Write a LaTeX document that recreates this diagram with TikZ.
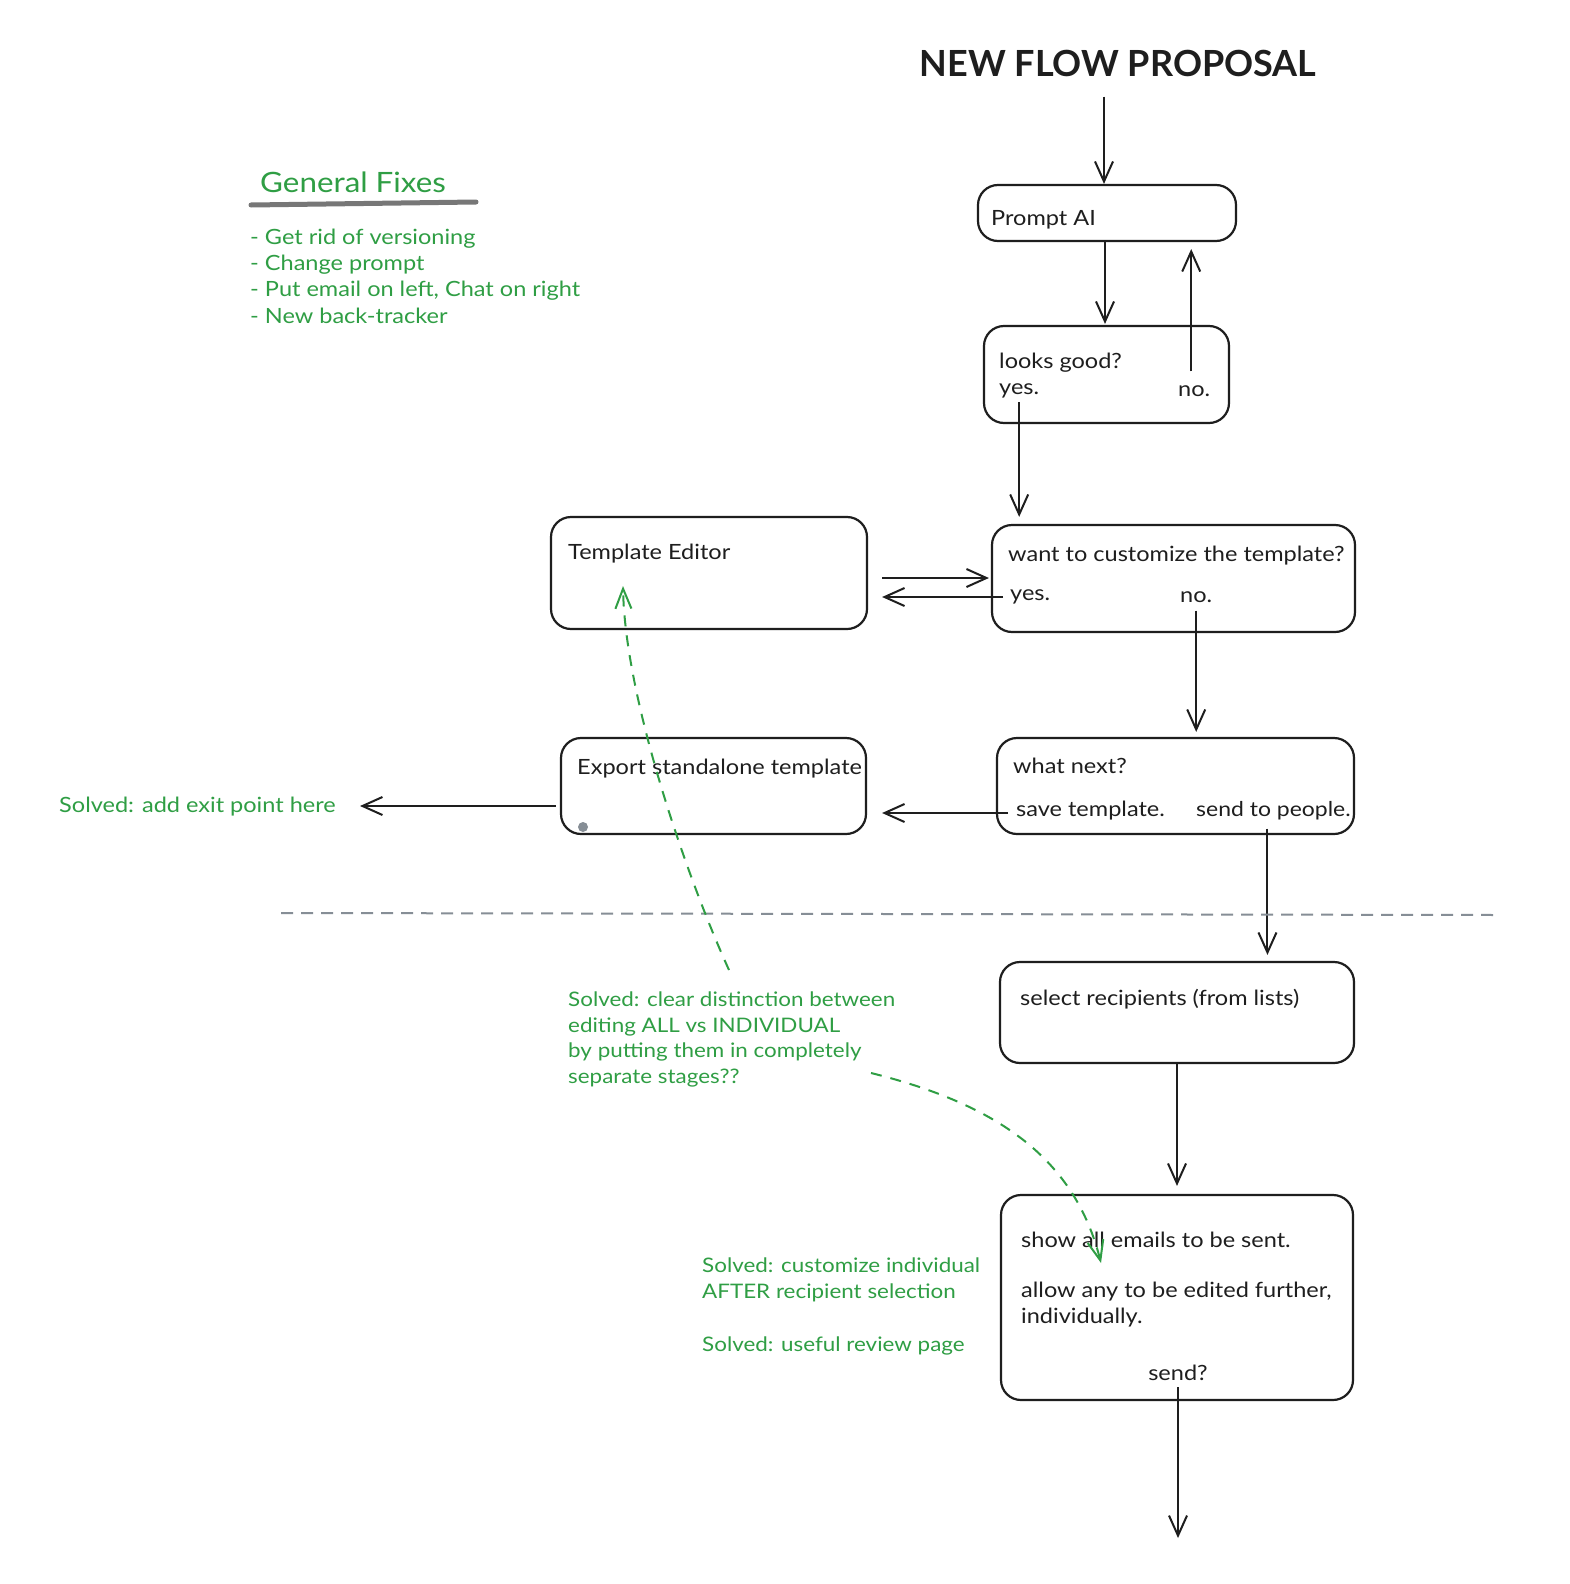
\documentclass[tikz,border=0pt]{standalone}
\usepackage{fontspec}
\setmainfont{Lato}[FakeStretch=1.12]
\newfontfamily\titlefont{Lato}
\usetikzlibrary{arrows.meta,calc}
\definecolor{ink}{HTML}{1E1E1E}
\definecolor{note}{HTML}{2F9E44}
\definecolor{rule}{HTML}{868E96}
\definecolor{ulgray}{HTML}{777777}
\tikzset{
  box/.style={draw=ink, line width=2.2pt, rounded corners=20pt, inner sep=0pt},
  txt/.style={anchor=west, inner sep=0pt, text=ink, font=\fontsize{21}{25}\selectfont},
  notetxt/.style={anchor=west, inner sep=0pt, text=note, font=\fontsize{21}{25}\selectfont},
  notepar/.style={anchor=north west, inner sep=0pt, text=note, align=left, font=\fontsize{20}{25.5}\selectfont},
  arr/.style={draw=ink, line width=2pt, -{Straight Barb[length=20pt,width=18pt,line width=2pt]}},
  garr/.style={draw=note, line width=2pt, dash pattern=on 11pt off 9pt, -{Straight Barb[length=20pt,width=16pt,line width=2pt]}},
}
\begin{document}
\begin{tikzpicture}[x=1pt,y=-1pt]
\useasboundingbox[fill=white] (0,0) rectangle (1570,1584);

% title
\node[inner sep=0pt, text=ink, font=\fontsize{36}{42}\titlefont\bfseries] (title) at (1118,63) {NEW FLOW PROPOSAL};

% general fixes
\node[anchor=west, inner sep=0pt, text=note, font=\fontsize{28}{32}\selectfont] (gf) at (260,182) {General Fixes};
\coordinate (ulA) at (251,205);
\coordinate (ulB) at (476,202);
\draw[ulgray, line width=5pt, line cap=round] (ulA) -- (ulB);
\node[notetxt] (f1) at (250,239) {- Get rid of versioning};
\node[notetxt] (f2) at (250,265) {- Change prompt};
\node[notetxt] (f3) at (250,291) {- Put email on left, Chat on right};
\node[notetxt] (f4) at (250,316) {- New back-tracker};

% boxes
\node[box, minimum width=258pt, minimum height=56pt] (prompt) at (1107,213) {};
\node[box, minimum width=245pt, minimum height=97pt] (looks) at (1106.5,374.5) {};
\node[box, minimum width=363pt, minimum height=107pt] (want) at (1173.5,578.5) {};
\node[box, minimum width=316pt, minimum height=112pt] (editor) at (709,573) {};
\node[box, minimum width=357pt, minimum height=96pt] (whatnext) at (1175.5,786) {};
\node[box, minimum width=305pt, minimum height=96pt] (export) at (713.5,786) {};
\node[box, minimum width=354pt, minimum height=101pt] (select) at (1177,1012.5) {};
\node[box, minimum width=352pt, minimum height=205pt] (show) at (1177,1297.5) {};

% box texts
\node[txt] (tprompt) at (991,220) {Prompt AI};
\node[txt] (tlooks) at (999,363) {looks good?};
\node[txt] (lyes) at (999,391) {yes.};
\node[txt] (lno) at (1178,391) {no.};
\node[txt] (twant) at (1008,556) {want to customize the template?};
\node[txt] (wyes) at (1010,597) {yes.};
\node[txt] (wno) at (1180,597) {no.};
\node[txt] (teditor) at (568,554) {Template Editor};
\node[txt] (twhat) at (1013,766) {what next?};
\node[txt] (nsave) at (1016,811) {save template.};
\node[txt, font=\fontsize{20.5}{25}\selectfont] (nsend) at (1196,811) {send to people.};
\node[txt] (texport) at (577,769) {Export standalone template};
\node[txt] (tselect) at (1020,999) {select recipients (from lists)};
\node[txt] (ts1) at (1021,1240) {show all emails to be sent.};
\node[txt] (ts2) at (1021,1292) {allow any to be edited further,};
\node[txt] (ts3) at (1021,1318) {individually.};
\node[inner sep=0pt, text=ink, font=\fontsize{21}{25}\selectfont] (ssend) at (1178,1373) {send?};

% gray dot
\fill[rule] (583,827) circle (5pt);

% notes
\node[notetxt] (exitnote) at (59,807) {Solved: add exit point here};
\node[notepar] (distnote) at (568,992) {Solved: clear distinction between\\editing ALL vs INDIVIDUAL\\by putting them in completely\\separate stages??};
\node[notepar] (indnote) at (702,1258) {Solved: customize individual\\AFTER recipient selection};
\node[notetxt, font=\fontsize{20}{25}\selectfont] (revnote) at (702,1346) {Solved: useful review page};

% connectors
\draw[arr] ([yshift=-20pt]title.south -| 1104,0) -- (1104,0 |- prompt.north);
\draw[arr, shorten >=1pt] (1105,0 |- prompt.south) -- (1105,0 |- looks.north);
\draw[arr, shorten >=7pt] ([yshift=14pt,xshift=-3pt]lno.north) -- ([xshift=-3pt]lno.north |- prompt.south);
\draw[arr, shorten <=4pt, shorten >=7pt] (lyes.south) -- (lyes.south |- want.north);
\draw[arr] ([xshift=14pt]editor.east |- 0,578) -- ([xshift=-2pt]want.west |- 0,578);
\draw[arr, shorten <=7pt] (wyes.west |- 0,597) -- ([xshift=14pt]editor.east |- 0,597);
\draw[arr, shorten <=8pt, shorten >=5pt] (wno.south) -- (wno.south |- whatnext.north);
\draw[arr, shorten <=8pt] (nsave.west |- 0,813) -- ([xshift=15pt]export.east |- 0,813);
\draw[arr, shorten >=24pt] ([xshift=-4pt]export.west |- 0,806) -- (exitnote.east |- 0,806);
\draw[arr, shorten <=8pt, shorten >=6pt] ([xshift=-6pt]nsend.south) -- ([xshift=-6pt]nsend.south |- select.north);
\draw[arr, shorten >=8pt] (select.south) -- (show.north);
\coordinate (endpt) at (1178,1538);
\draw[arr, shorten <=6pt] (ssend.south) -- (endpt);

% separator
\coordinate (sepL) at (281,913);
\coordinate (sepR) at (1498,915);
\draw[rule, line width=2pt, dash pattern=on 12pt off 8pt] (sepL) -- (sepR);

% green dashed curves
\coordinate (g1s) at (729,970);
\coordinate (g1e) at (623,586);
\draw[garr] (g1s) .. controls (688,880) and (625,700) .. (g1e);
\coordinate (g2s) at (871,1073);
\coordinate (g2e) at (1101,1263);
\draw[garr] (g2s) .. controls (1000,1105) and (1075,1160) .. (g2e);
\end{tikzpicture}
\end{document}
